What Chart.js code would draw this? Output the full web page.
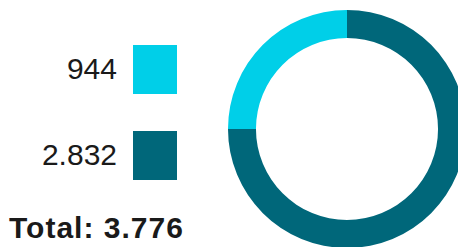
<!DOCTYPE html>
<html>
<head>
<meta charset="utf-8">
<script src="https://cdn.jsdelivr.net/npm/chart.js@4"></script>
<style>
    html, body {
        margin: 0;
        padding: 0;
        width: 458px;
        height: 247px;
        overflow: hidden;
        background: #ffffff;
        font-family: "Liberation Sans", Arial, sans-serif;
        color: #1a1a1a;
    }
    #chart-wrap {
        position: absolute;
        left: 228px;
        top: 10px;
        width: 238px;
        height: 238px;
    }
    .legend-value {
        position: absolute;
        right: 341px;   /* text ends around x=117 */
        font-size: 30px;
        line-height: 30px;
        white-space: nowrap;
    }
    .legend-box {
        position: absolute;
        left: 133px;
        width: 44px;
        height: 49px;
    }
    #total {
        position: absolute;
        left: 9px;
        top: 213px;
        font-size: 30px;
        line-height: 30px;
        font-weight: bold;
        letter-spacing: 1px;
        white-space: nowrap;
    }
</style>
</head>
<body>
<div id="legend"></div>
<div id="total"></div>
<div id="chart-wrap"><canvas id="donut-chart"></canvas></div>

<script>
// ===== DATA =====
// drawn clockwise from 12 o'clock
const segment_labels = ['2.832', '944'];
const segment_values = [2832, 944];
const segment_colors = ['#00677a', '#00cfe8'];

// legend order on the left (top to bottom), index into the arrays above
const legend_order = [1, 0];
const legend_tops = [45, 131];   // box top edges
const total_text = 'Total: 3.776';

// ===== CHART =====
const ctx = document.getElementById('donut-chart').getContext('2d');
const donutChart = new Chart(ctx, {
    type: 'doughnut',
    data: {
        labels: segment_labels,
        datasets: [{
            data: segment_values,
            backgroundColor: segment_colors,
            borderWidth: 0,
            hoverOffset: 0
        }]
    },
    options: {
        responsive: true,
        maintainAspectRatio: false,
        animation: false,
        cutout: '76.5%',
        layout: { padding: 0 },
        plugins: {
            legend: { display: false },
            tooltip: { enabled: false }
        }
    }
});

// ===== HTML LEGEND =====
const legend = document.getElementById('legend');
legend_order.forEach((idx, row) => {
    const box = document.createElement('div');
    box.className = 'legend-box';
    box.style.top = legend_tops[row] + 'px';
    box.style.background = donutChart.data.datasets[0].backgroundColor[idx];
    legend.appendChild(box);

    const label = document.createElement('div');
    label.className = 'legend-value';
    label.style.top = (legend_tops[row] + 9) + 'px';
    label.textContent = donutChart.data.labels[idx];
    legend.appendChild(label);
});

document.getElementById('total').textContent = total_text;
</script>
</body>
</html>
